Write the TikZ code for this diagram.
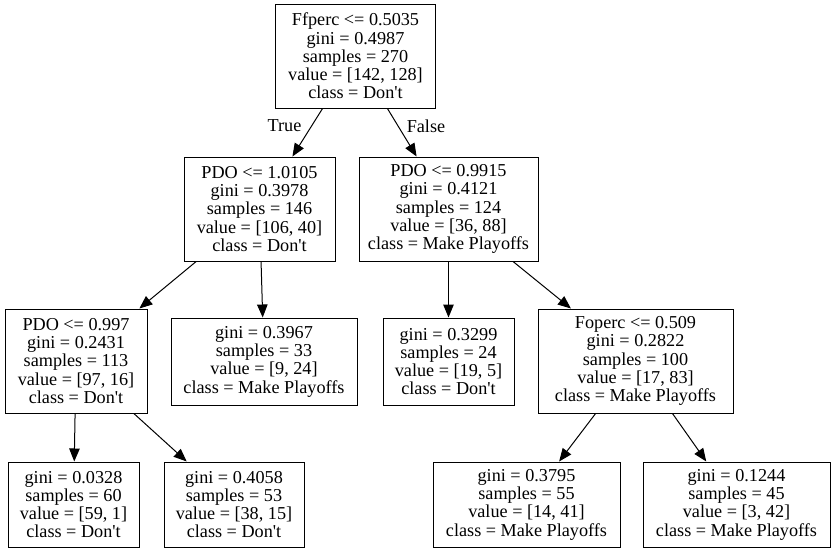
\documentclass[tikz,border=0pt]{standalone}
\usepackage{fontspec}
\setmainfont{Liberation Serif}
\usetikzlibrary{arrows.meta}
\newcommand{\apos}{\textquotesingle}
\begin{document}
\begin{tikzpicture}[x=1pt,y=-1pt,
  treenode/.style={draw,line width=1pt,align=center,inner sep=0pt,
    font=\fontsize{18.2}{18.3}\selectfont},
  edge/.style={line width=1pt,-{Triangle[length=13pt,width=10.5pt]}},
  edgelabel/.style={font=\fontsize{18.2}{18.3}\selectfont}]
\useasboundingbox (0,0) rectangle (836,552);
% root
\node[treenode,minimum width=160pt,minimum height=104pt] (n0) at (355.5,56)
  {Ffperc <= 0.5035\\gini = 0.4987\\samples = 270\\value = [142, 128]\\class = Don\apos t};
% depth 1
\node[treenode,minimum width=151pt,minimum height=104pt] (n1) at (259.5,209)
  {PDO <= 1.0105\\gini = 0.3978\\samples = 146\\value = [106, 40]\\class = Don\apos t};
\node[treenode,minimum width=179pt,minimum height=104pt] (n6) at (448.5,209)
  {PDO <= 0.9915\\gini = 0.4121\\samples = 124\\value = [36, 88]\\class = Make Playoffs};
% depth 2
\node[treenode,minimum width=142pt,minimum height=104pt] (n2) at (76,361)
  {PDO <= 0.997\\gini = 0.2431\\samples = 113\\value = [97, 16]\\class = Don\apos t};
\node[treenode,minimum width=186pt,minimum height=87pt] (n5) at (264,361.5)
  {gini = 0.3967\\samples = 33\\value = [9, 24]\\class = Make Playoffs};
\node[treenode,minimum width=131pt,minimum height=87pt] (n7) at (448.5,361.5)
  {gini = 0.3299\\samples = 24\\value = [19, 5]\\class = Don\apos t};
\node[treenode,minimum width=195pt,minimum height=104pt] (n8) at (635.5,361)
  {Foperc <= 0.509\\gini = 0.2822\\samples = 100\\value = [17, 83]\\class = Make Playoffs};
% depth 3
\node[treenode,minimum width=131pt,minimum height=85pt] (n3) at (73.5,504.5)
  {gini = 0.0328\\samples = 60\\value = [59, 1]\\class = Don\apos t};
\node[treenode,minimum width=140pt,minimum height=85pt] (n4) at (234,504.5)
  {gini = 0.4058\\samples = 53\\value = [38, 15]\\class = Don\apos t};
\node[treenode,minimum width=187pt,minimum height=85pt] (n9) at (526.5,504.5)
  {gini = 0.3795\\samples = 55\\value = [14, 41]\\class = Make Playoffs};
\node[treenode,minimum width=187pt,minimum height=85pt] (n10) at (736.5,504.5)
  {gini = 0.1244\\samples = 45\\value = [3, 42]\\class = Make Playoffs};
% connectors
\draw[edge] (n0) -- (n1);
\draw[edge] (n0) -- (n6);
\draw[edge] (n1) -- (n2);
\draw[edge] (n1) -- (n5);
\draw[edge] (n2) -- (n3);
\draw[edge] (n2) -- (n4);
\draw[edge] (n6) -- (n7);
\draw[edge] (n6) -- (n8);
\draw[edge] (n8) -- (n9);
\draw[edge] (n8) -- (n10);
% branch labels
\node[edgelabel] (lt) at (284.5,126) {True};
\node[edgelabel] (lf) at (426,126) {False};
\end{tikzpicture}
\end{document}
